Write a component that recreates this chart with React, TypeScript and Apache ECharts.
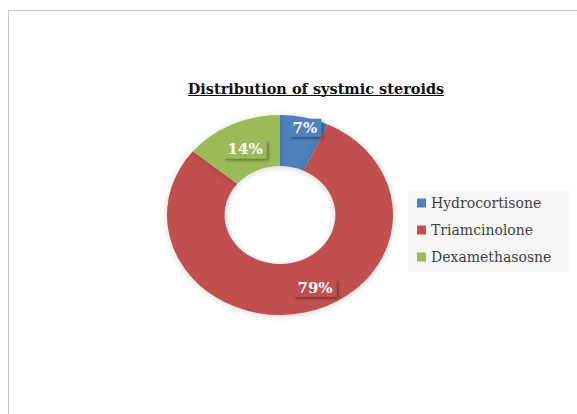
import React, { useEffect, useRef } from "react";
import * as echarts from "echarts";

// Share of patients by systemic steroid (percent)
const drugNames = ["Hydrocortisone", "Triamcinolone", "Dexamethasosne"];
const shareValues = [7, 79, 14];
const sliceColors = ["#4f81bd", "#c0504d", "#9bbb59"];
const chartTitle = "Distribution of systmic steroids";

// Ring geometry (page pixels); the ring is drawn slightly wider than tall
const CX = 280;
const CY = 215;
const R_OUTER = 100;
const R_INNER = 49;
const STRETCH = 1.13;
// Where each percentage tag sits: fraction of the outer radius and an angular nudge (deg)
const TAG_LAYOUT = [
  { radius: 0.9, turn: 1.6 },
  { radius: 0.793, turn: -10.4 },
  { radius: 0.725, turn: 0 },
];

const SERIF = "DejaVu Serif";

const total = shareValues.reduce((a, b) => a + b, 0);
const cumulative = shareValues.map((_, i) =>
  shareValues.slice(0, i).reduce((a, b) => a + b, 0)
);

function makeRenderer(idx: number) {
  return (_params: any, api: any) => {
    const value = api.value(0) as number;
    const startFrac = cumulative[idx] / total;
    const frac = value / total;
    const start = -Math.PI / 2 + 2 * Math.PI * startFrac;
    const end = start + 2 * Math.PI * frac;
    const midDeg = (startFrac + frac / 2) * 360 + TAG_LAYOUT[idx].turn;
    const th = (midDeg * Math.PI) / 180;
    const rr = TAG_LAYOUT[idx].radius * R_OUTER;
    const lx = CX + STRETCH * rr * Math.sin(th);
    const ly = CY - rr * Math.cos(th);
    return {
      type: "group",
      children: [
        {
          type: "group",
          x: CX,
          y: CY,
          scaleX: STRETCH,
          children: [
            {
              type: "sector",
              shape: {
                cx: 0,
                cy: 0,
                r: R_OUTER,
                r0: R_INNER,
                startAngle: start,
                endAngle: end,
                clockwise: true,
              },
              style: {
                fill: sliceColors[idx],
                shadowBlur: 6,
                shadowColor: "rgba(0,0,0,0.18)",
                shadowOffsetY: 1,
              },
            },
          ],
        },
        {
          type: "text",
          x: lx,
          y: ly,
          z2: 10,
          style: {
            text: `${value}%`,
            fill: "#ffffff",
            font: `bold 15px ${SERIF}`,
            align: "center",
            verticalAlign: "middle",
            lineHeight: 16,
            backgroundColor: sliceColors[idx],
            padding: [1, 4, 1, 4],
            shadowColor: "rgba(0,0,0,0.35)",
            shadowBlur: 3,
            shadowOffsetX: 2,
            shadowOffsetY: 2,
          },
        },
      ],
    };
  };
}

export default function App() {
  const ref = useRef<HTMLDivElement>(null);

  useEffect(() => {
    if (!ref.current) return;
    const chart = echarts.init(ref.current, undefined, { renderer: "svg" });
    chart.setOption({
      animation: false,
      backgroundColor: "#ffffff",
      color: sliceColors,
      legend: {
        orient: "vertical",
        left: 408,
        top: 190,
        backgroundColor: "#f8f8f8",
        padding: [6, 19, 8, 9],
        itemWidth: 9,
        itemHeight: 9,
        itemGap: 13,
        icon: "rect",
        selectedMode: false,
        data: drugNames,
        textStyle: {
          fontFamily: SERIF,
          fontSize: 14,
          color: "#404040",
        },
      },
      graphic: [
        {
          type: "rect",
          z: -10,
          shape: { x: 8.5, y: 10.5, width: 700, height: 500 },
          style: { fill: "none", stroke: "#c6c6c6", lineWidth: 1 },
          silent: true,
        },
        {
          type: "text",
          x: 316,
          y: 88,
          style: {
            text: chartTitle,
            font: `bold 14.5px ${SERIF}`,
            fill: "#111111",
            align: "center",
            verticalAlign: "middle",
          },
        },
        {
          type: "line",
          shape: { x1: 188, y1: 95.5, x2: 444, y2: 95.5 },
          style: { stroke: "#111111", lineWidth: 1 },
        },
      ],
      series: drugNames.map((name, idx) => ({
        type: "custom",
        name,
        coordinateSystem: "none",
        itemStyle: { color: sliceColors[idx] },
        data: [[shareValues[idx]]],
        renderItem: makeRenderer(idx),
      })),
    });
    return () => chart.dispose();
  }, []);

  return (
    <div
      ref={ref}
      style={{ position: "absolute", left: 0, top: 0, width: 577, height: 414 }}
    />
  );
}
